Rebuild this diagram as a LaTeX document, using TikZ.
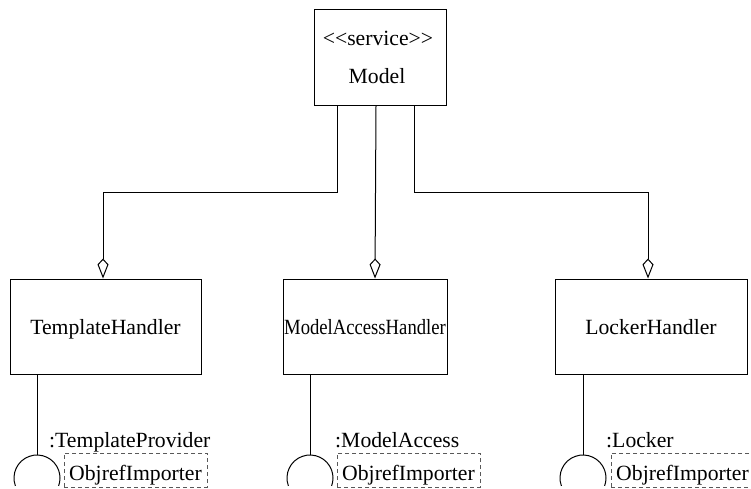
\documentclass[tikz,border=0pt]{standalone}
\usepackage{fontspec}
\setmainfont{Liberation Serif}
\usetikzlibrary{arrows.meta}
\tikzset{
  umlbox/.style={draw=black, line width=1pt, minimum height=95pt, inner sep=0pt, text height=15pt, text depth=0pt},
  conn/.style={draw=black, line width=1pt},
  agg/.style={conn, -{Kite[open, fill=white, length=20pt, width=11pt, inset=6pt]}},
  objref/.style={draw=black!65, dash pattern=on 4pt off 3pt, line width=0.9pt, minimum width=143pt, minimum height=34pt, inner sep=0pt, text height=20pt, text depth=0pt},
  lbl/.style={anchor=base west, inner sep=0pt},
}
\begin{document}
\begin{tikzpicture}[x=1pt, y=-1pt, font=\fontsize{21.7}{26}\selectfont]
\useasboundingbox (0,0) rectangle (751,488);
\clip (0,0) rectangle (751,488);
% top box
\node[draw=black, line width=1pt, minimum width=132pt, minimum height=96pt, inner sep=0pt] (model) at (380,57) {};
\node[anchor=base, inner sep=0pt] (svc) at (378,45) {<{}<service>{}>};
\node[anchor=base, inner sep=0pt] (mdl) at (377,83) {Model};
% lower boxes
\node[umlbox, minimum width=191pt] (th) at (105.5,326.5) {TemplateHandler};
\node[umlbox, minimum width=164pt] (mah) at (365,326.5) {\scalebox{0.86}[1]{ModelAccessHandler}};
\node[umlbox, minimum width=192pt] (lh) at (651,326.5) {LockerHandler};
% aggregation connectors
\draw[agg] ([xshift=-43pt]model.south) -- ++(0,87) -| ([xshift=-2.5pt]th.north);
\draw[agg] ([xshift=-4pt]model.south) -- ([xshift=10pt]mah.north);
\draw[agg] ([xshift=34pt]model.south) -- ++(0,87) -| ([xshift=-3pt]lh.north);
% required interfaces
\coordinate (i1) at (37,455);
\coordinate (i2) at (310,455);
\coordinate (i3) at (583,455);
\foreach \c/\b in {i1/th, i2/mah, i3/lh}{
  \draw[conn] (\b.south -| \c) -- (\c);
  \draw[conn] ([yshift=-23pt]\c) ++(160:23) arc[start angle=160, end angle=380, radius=23];
}
% labels
\node[lbl] (l1) at (49,447) {:TemplateProvider};
\node[lbl] (l2) at (335,447) {:ModelAccess};
\node[lbl] (l3) at (606,447) {:Locker};
\node[objref] (o1) at (135.5,470) {ObjrefImporter};
\node[objref] (o2) at (408.5,470) {ObjrefImporter};
\node[objref] (o3) at (682.5,470) {ObjrefImporter};
\end{tikzpicture}
\end{document}
